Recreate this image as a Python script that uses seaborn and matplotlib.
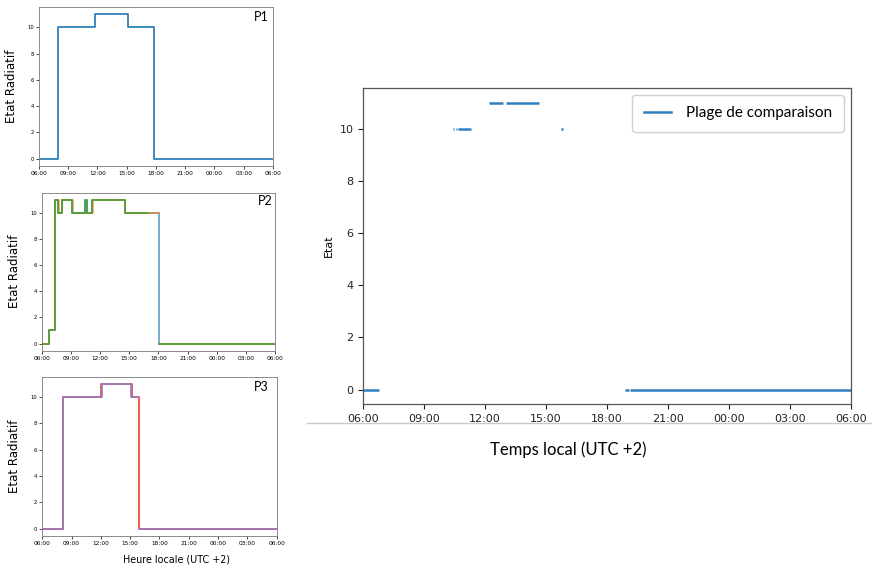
import numpy as np
import pandas as pd
import matplotlib
matplotlib.use("Agg")
import matplotlib.pyplot as plt
from matplotlib.lines import Line2D
import seaborn as sns

# ---------------- data (hours since midnight of day 1; 30 = 06:00 next day) ----------------
tick_hours = [6, 9, 12, 15, 18, 21, 24, 27, 30]
tick_labels = ["06:00", "09:00", "12:00", "15:00", "18:00", "21:00", "00:00", "03:00", "06:00"]
y_ticks_small = [0, 2, 4, 6, 8, 10]
y_ticks_big = [0, 2, 4, 6, 8, 10]

# P1 (single series, step)
p1_t = [6.0, 8.0, 11.75, 15.17, 17.83, 30.0]
p1_v = [0, 10, 11, 10, 0, 0]

# P2 blue (complete)
p2_blue_t = [6.0, 6.77, 7.40, 7.70, 8.07, 9.15, 10.47, 10.62, 11.17, 14.55, 18.07, 30.0]
p2_blue_v = [0, 1, 11, 10, 11, 10, 11, 10, 11, 10, 0, 0]
# P2 orange (segment ids mark gaps)
p2_orange_t = [6.0, 6.77, 7.40, 7.77, 8.10, 9.20, 11.23, 14.55, 18.07, 18.07, 30.0]
p2_orange_v = [0, 1, 11, 10, 11, 10, 11, 10, 10, 0, 0]
p2_orange_s = [0, 0, 0, 0, 0, 0, 0, 0, 0, 1, 1]
# P2 green
p2_green_t = [6.0, 6.77, 7.40, 7.70, 8.07, 9.15, 10.47, 10.62, 11.17, 14.55, 16.95, 18.07, 30.0]
p2_green_v = [0, 1, 11, 10, 11, 10, 11, 10, 11, 10, 10, 0, 0]
p2_green_s = [0, 0, 0, 0, 0, 0, 0, 0, 0, 0, 0, 1, 1]

# P3 red
p3_red_t = [6.0, 8.17, 12.05, 15.17, 15.87, 30.0]
p3_red_v = [0, 10, 11, 10, 0, 0]
# P3 purple
p3_pur_t = [6.0, 8.17, 12.10, 15.08, 15.85, 15.90, 30.0]
p3_pur_v = [0, 10, 11, 10, 10, 0, 0]
p3_pur_s = [0, 0, 0, 0, 0, 1, 1]

# Main chart: comparison range segments
cmp_start = [6.0, 10.40, 10.55, 10.68, 12.18, 13.03, 15.72, 18.88, 19.12]
cmp_end = [6.78, 10.48, 10.63, 11.28, 12.87, 14.67, 15.85, 19.08, 30.0]
cmp_val = [0, 10, 10, 10, 11, 11, 10, 0, 0]

# ---------------- helpers ----------------
def step_df(t, v, s=None):
    if s is None:
        s = [0] * len(t)
    return pd.DataFrame({"t": t, "v": v, "seg": s})


def style_small(ax):
    ax.set_xlim(6, 30)
    ax.set_ylim(-0.55, 11.55)
    ax.set_xticks(tick_hours)
    ax.set_xticklabels(tick_labels, fontsize=4.2)
    ax.set_yticks(y_ticks_small)
    ax.tick_params(axis="y", labelsize=3.8, length=2, width=0.5, pad=1.5)
    ax.tick_params(axis="x", length=2, width=0.5, pad=1.5)
    for sp in ax.spines.values():
        sp.set_linewidth(0.6)
        sp.set_color("#777777")
    ax.set_xlabel("")
    ax.set_ylabel("Etat Radiatif", fontsize=8.5)
    ax.yaxis.set_label_coords(-0.09, 0.5)


fig = plt.figure(figsize=(8.72, 5.72), dpi=100)

ax1 = fig.add_axes([0.0447, 0.7098, 0.2683, 0.278])
ax2 = fig.add_axes([0.0478, 0.3869, 0.2679, 0.2762])
ax3 = fig.add_axes([0.0485, 0.0629, 0.2688, 0.2785])
axb = fig.add_axes([0.4166, 0.2937, 0.5590, 0.5519])

lw_s = 1.2
sns.lineplot(data=step_df(p1_t, p1_v), x="t", y="v", units="seg", estimator=None,
             drawstyle="steps-post", color="#1f77b4", lw=lw_s, ax=ax1, legend=False)

sns.lineplot(data=step_df(p2_blue_t, p2_blue_v), x="t", y="v", units="seg", estimator=None,
             drawstyle="steps-post", color="#1f77b4", lw=lw_s, ax=ax2, legend=False, alpha=0.7)
sns.lineplot(data=step_df(p2_orange_t, p2_orange_v, p2_orange_s), x="t", y="v", units="seg",
             estimator=None, drawstyle="steps-post", color="#ff7f0e", lw=lw_s, ax=ax2,
             legend=False, alpha=0.7)
sns.lineplot(data=step_df(p2_green_t, p2_green_v, p2_green_s), x="t", y="v", units="seg",
             estimator=None, drawstyle="steps-post", color="#2ca02c", lw=lw_s, ax=ax2,
             legend=False, alpha=0.8)

sns.lineplot(data=step_df(p3_red_t, p3_red_v), x="t", y="v", units="seg", estimator=None,
             drawstyle="steps-post", color="#e8412b", lw=lw_s, ax=ax3, legend=False)
sns.lineplot(data=step_df(p3_pur_t, p3_pur_v, p3_pur_s), x="t", y="v", units="seg",
             estimator=None, drawstyle="steps-post", color="#9a79c2", lw=lw_s, ax=ax3,
             legend=False)

for ax, lab, (px, py) in [(ax1, "P1", (0.95, 0.937)), (ax2, "P2", (0.956, 0.949)),
                          (ax3, "P3", (0.936, 0.935))]:
    style_small(ax)
    ax.text(px, py, lab, transform=ax.transAxes, ha="center", va="center", fontsize=9,
            family="Lato")

fig.text(176.5 / 872, 1 - 559 / 572, "Heure locale (UTC +2)", ha="center", va="center",
         fontsize=6.9)

# ---------------- main chart ----------------
rows = []
for i, (a, b, v) in enumerate(zip(cmp_start, cmp_end, cmp_val)):
    rows.append({"t": a, "v": v, "seg": i})
    rows.append({"t": b, "v": v, "seg": i})
cmp_df = pd.DataFrame(rows)
sns.lineplot(data=cmp_df, x="t", y="v", units="seg", estimator=None, color="#2f7fc1",
             lw=1.8, ax=axb, legend=False, solid_capstyle="butt")
axb.set_xlim(6, 30)
axb.set_ylim(-0.55, 11.55)
axb.set_xticks(tick_hours)
axb.set_xticklabels(tick_labels, fontsize=8)
axb.set_yticks(y_ticks_big)
axb.tick_params(axis="both", labelsize=8, length=3.5, width=0.8, colors="#222222")
for sp in axb.spines.values():
    sp.set_linewidth(0.9)
    sp.set_color("#555555")
axb.set_xlabel("")
axb.set_ylabel("Etat", fontsize=8)

handle = Line2D([0], [0], color="#2f7fc1", lw=1.8)
leg = axb.legend([handle], ["Plage de comparaison"], loc="upper right",
                 prop={"family": "Lato", "size": 11}, handlelength=1.8, handletextpad=1.0,
                 borderpad=0.75, frameon=True, fancybox=True, framealpha=1,
                 bbox_to_anchor=(0.986, 0.979), borderaxespad=0)
leg.get_frame().set_edgecolor("#d0d0d0")

fig.text(568 / 872, 1 - 450 / 572, "Temps local (UTC +2)", ha="center", va="center",
         fontsize=12, family="Lato")

fig.add_artist(Line2D([307 / 872, 1.0], [1 - 423 / 572, 1 - 423 / 572],
                      transform=fig.transFigure, color="#c8c8c8", lw=1.0))

fig.savefig("out.png", dpi=100)
